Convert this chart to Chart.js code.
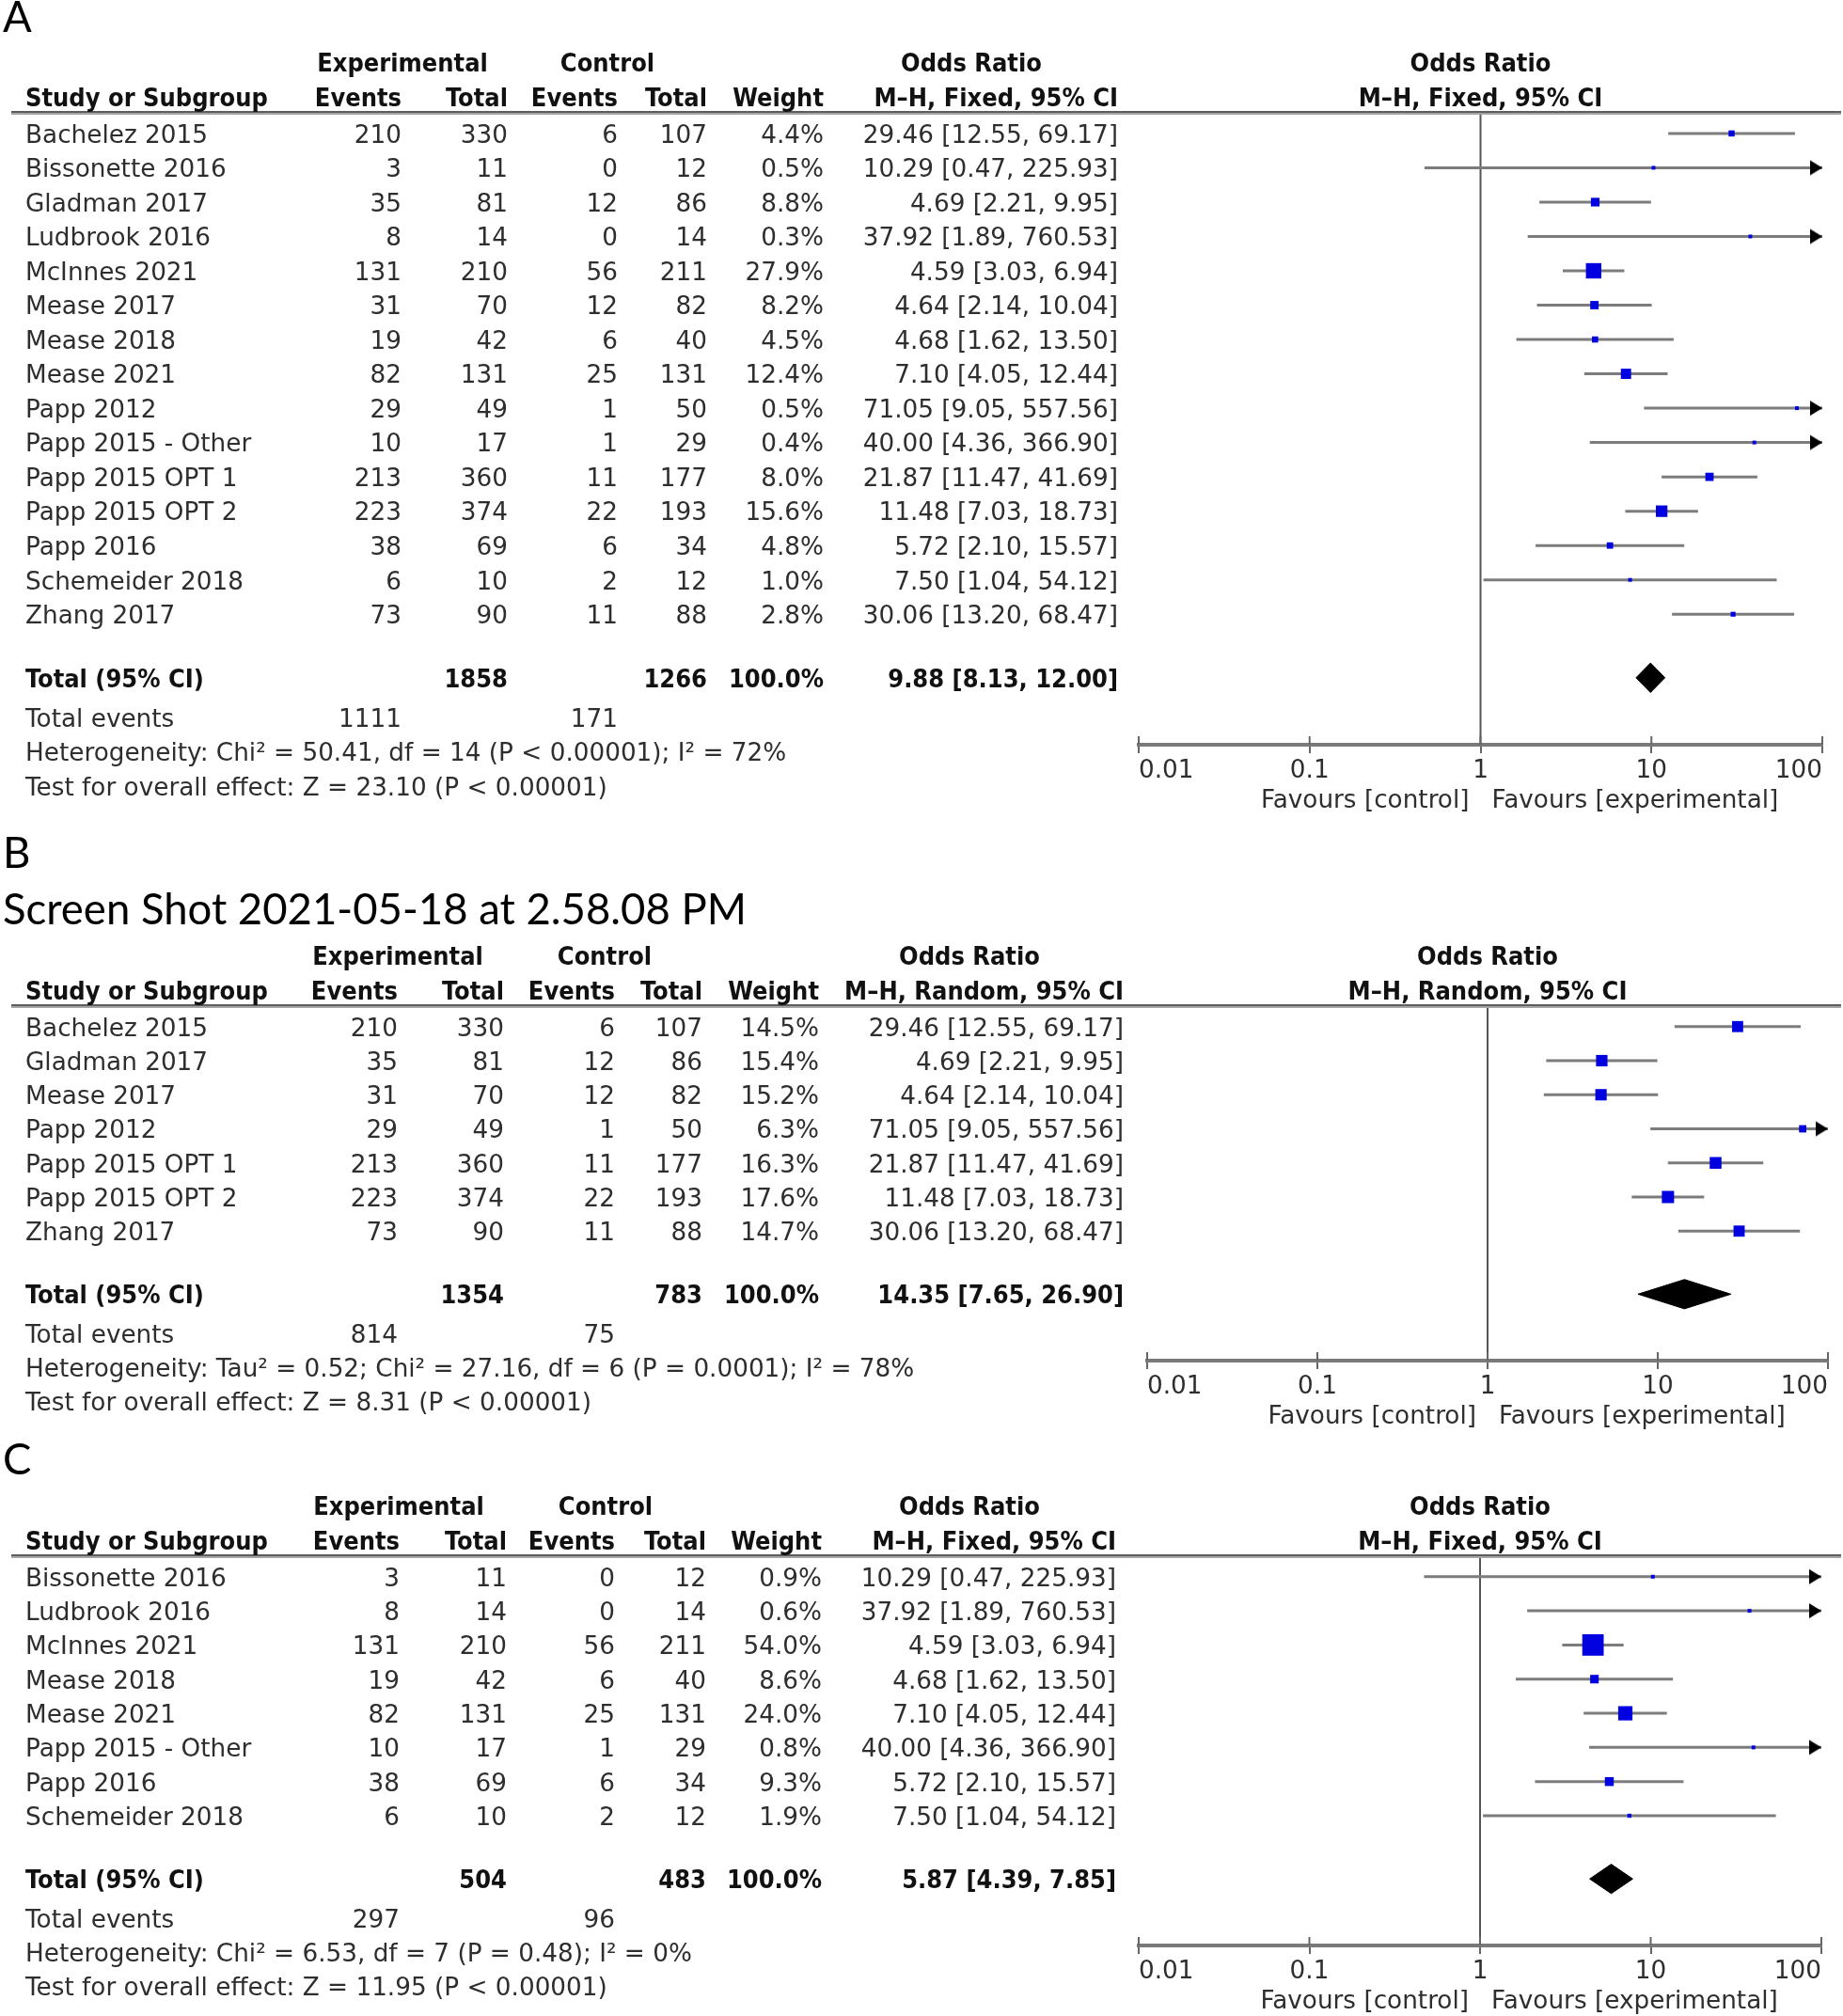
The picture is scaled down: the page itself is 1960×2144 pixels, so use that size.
<!DOCTYPE html>
<html>
<head>
<meta charset="utf-8">
<script src="https://cdn.jsdelivr.net/npm/chart.js@4.4.0/dist/chart.umd.min.js"></script>
<style>
  html, body { margin: 0; padding: 0; background: #fff; }
  #wrap { position: relative; width: 1960px; height: 2144px; }
  #wrap canvas { position: absolute; left: 0; top: 0; }
</style>
</head>
<body>
<div id="wrap">
  <canvas id="panelA" width="1960" height="2144"></canvas>
  <canvas id="panelB" width="1960" height="2144"></canvas>
  <canvas id="panelC" width="1960" height="2144"></canvas>
</div>
<script>
// ---- Panel A: fixed effect, all studies
const studiesA = ["Bachelez 2015", "Bissonette 2016", "Gladman 2017", "Ludbrook 2016", "McInnes 2021", "Mease 2017", "Mease 2018", "Mease 2021", "Papp 2012", "Papp 2015 - Other", "Papp 2015 OPT 1", "Papp 2015 OPT 2", "Papp 2016", "Schemeider 2018", "Zhang 2017"];
const expEventsA = [210, 3, 35, 8, 131, 31, 19, 82, 29, 10, 213, 223, 38, 6, 73];
const expTotalA = [330, 11, 81, 14, 210, 70, 42, 131, 49, 17, 360, 374, 69, 10, 90];
const ctrlEventsA = [6, 0, 12, 0, 56, 12, 6, 25, 1, 1, 11, 22, 6, 2, 11];
const ctrlTotalA = [107, 12, 86, 14, 211, 82, 40, 131, 50, 29, 177, 193, 34, 12, 88];
const weightA = [4.4, 0.5, 8.8, 0.3, 27.9, 8.2, 4.5, 12.4, 0.5, 0.4, 8.0, 15.6, 4.8, 1.0, 2.8];
const orA = [29.46, 10.29, 4.69, 37.92, 4.59, 4.64, 4.68, 7.10, 71.05, 40.00, 21.87, 11.48, 5.72, 7.50, 30.06];
const loA = [12.55, 0.47, 2.21, 1.89, 3.03, 2.14, 1.62, 4.05, 9.05, 4.36, 11.47, 7.03, 2.10, 1.04, 13.20];
const hiA = [69.17, 225.93, 9.95, 760.53, 6.94, 10.04, 13.50, 12.44, 557.56, 366.90, 41.69, 18.73, 15.57, 54.12, 68.47];
const totalsA = [1858, 1266];
const totalEventsA = [1111, 171];
const pooledA = [9.88, 8.13, 12.00];
const hetA = "Heterogeneity: Chi² = 50.41, df = 14 (P < 0.00001); I² = 72%";
const effectA = "Test for overall effect: Z = 23.10 (P < 0.00001)";

// ---- Panel B: random effects subset
const studiesB = ["Bachelez 2015", "Gladman 2017", "Mease 2017", "Papp 2012", "Papp 2015 OPT 1", "Papp 2015 OPT 2", "Zhang 2017"];
const expEventsB = [210, 35, 31, 29, 213, 223, 73];
const expTotalB = [330, 81, 70, 49, 360, 374, 90];
const ctrlEventsB = [6, 12, 12, 1, 11, 22, 11];
const ctrlTotalB = [107, 86, 82, 50, 177, 193, 88];
const weightB = [14.5, 15.4, 15.2, 6.3, 16.3, 17.6, 14.7];
const orB = [29.46, 4.69, 4.64, 71.05, 21.87, 11.48, 30.06];
const loB = [12.55, 2.21, 2.14, 9.05, 11.47, 7.03, 13.20];
const hiB = [69.17, 9.95, 10.04, 557.56, 41.69, 18.73, 68.47];
const totalsB = [1354, 783];
const totalEventsB = [814, 75];
const pooledB = [14.35, 7.65, 26.90];
const hetB = "Heterogeneity: Tau² = 0.52; Chi² = 27.16, df = 6 (P = 0.0001); I² = 78%";
const effectB = "Test for overall effect: Z = 8.31 (P < 0.00001)";

// ---- Panel C: fixed effect, other subset
const studiesC = ["Bissonette 2016", "Ludbrook 2016", "McInnes 2021", "Mease 2018", "Mease 2021", "Papp 2015 - Other", "Papp 2016", "Schemeider 2018"];
const expEventsC = [3, 8, 131, 19, 82, 10, 38, 6];
const expTotalC = [11, 14, 210, 42, 131, 17, 69, 10];
const ctrlEventsC = [0, 0, 56, 6, 25, 1, 6, 2];
const ctrlTotalC = [12, 14, 211, 40, 131, 29, 34, 12];
const weightC = [0.9, 0.6, 54.0, 8.6, 24.0, 0.8, 9.3, 1.9];
const orC = [10.29, 37.92, 4.59, 4.68, 7.10, 40.00, 5.72, 7.50];
const loC = [0.47, 1.89, 3.03, 1.62, 4.05, 4.36, 2.10, 1.04];
const hiC = [225.93, 760.53, 6.94, 13.50, 12.44, 366.90, 15.57, 54.12];
const totalsC = [504, 483];
const totalEventsC = [297, 96];
const pooledC = [5.87, 4.39, 7.85];
const hetC = "Heterogeneity: Chi² = 6.53, df = 7 (P = 0.48); I² = 0%";
const effectC = "Test for overall effect: Z = 11.95 (P < 0.00001)";

// axis
const tickValues = [0.01, 0.1, 1, 10, 100];
const tickLabels = ["0.01", "0.1", "1", "10", "100"];

// ---- fonts: pick sizes so text widths match the picture
const probe = document.createElement("canvas").getContext("2d");
function hasFont(fam, weight) {
  const s = "abcdefghiWMl 1234567";
  probe.font = `${weight} 40px monospace`;
  const a = probe.measureText(s).width;
  probe.font = `${weight} 40px "${fam}", monospace`;
  return probe.measureText(s).width !== a;
}
function fitSize(fam, weight, sample, target) {
  probe.font = `${weight} 100px "${fam}"`;
  return 100 * target / probe.measureText(sample).width;
}
const regFam = "DejaVu Sans";
const regSize = fitSize(regFam, "normal", "Bachelez 2015", 194);
const boldFam = hasFont("DejaVu Sans Condensed", "bold") ? "DejaVu Sans Condensed" : "DejaVu Sans";
const boldSize = fitSize(boldFam, "bold", "Study or Subgroup", 258);
const titleFam = hasFont("Lato", "normal") ? "Lato" : "Open Sans";
const titleSize = fitSize(titleFam, "normal", "Screen Shot 2021-05-18 at 2.58.08 PM", 791);
const REG = `${regSize}px "${regFam}"`;
const BOLD = `bold ${boldSize}px "${boldFam}"`;
const TITLE = `${titleSize}px "${titleFam}"`;
const TXT = "#2e2e2e", HEAD = "#111";
const TEXT_DY = 3;

// arrow head with its tip at the image centre
const arrowImg = document.createElement("canvas");
arrowImg.width = 30; arrowImg.height = 18;
(() => {
  const c = arrowImg.getContext("2d");
  c.fillStyle = "#000";
  c.beginPath(); c.moveTo(2, 1); c.lineTo(15, 9); c.lineTo(2, 17); c.closePath(); c.fill();
})();

const panels = [
  { id: "panelA", studies: studiesA, expEvents: expEventsA, expTotal: expTotalA, ctrlEvents: ctrlEventsA, ctrlTotal: ctrlTotalA,
    weight: weightA, or: orA, lo: loA, hi: hiA, totals: totalsA, events: totalEventsA, pooled: pooledA, het: hetA, effect: effectA,
    method: "M–H, Fixed, 95% CI", top: 120, axis: 792, left: 1211, right: 1938,
    cols: [427, 540, 657, 752, 876, 1189], heads: [428, 646, 1033], marks: [["A", 3, 34]] },
  { id: "panelB", studies: studiesB, expEvents: expEventsB, expTotal: expTotalB, ctrlEvents: ctrlEventsB, ctrlTotal: ctrlTotalB,
    weight: weightB, or: orB, lo: loB, hi: hiB, totals: totalsB, events: totalEventsB, pooled: pooledB, het: hetB, effect: effectB,
    method: "M–H, Random, 95% CI", top: 1070, axis: 1447, left: 1220, right: 1944,
    cols: [423, 536, 654, 747, 871, 1195], heads: [423, 643, 1031],
    marks: [["B", 3, 923], ["Screen Shot 2021-05-18 at 2.58.08 PM", 3, 983]] },
  { id: "panelC", studies: studiesC, expEvents: expEventsC, expTotal: expTotalC, ctrlEvents: ctrlEventsC, ctrlTotal: ctrlTotalC,
    weight: weightC, or: orC, lo: loC, hi: hiC, totals: totalsC, events: totalEventsC, pooled: pooledC, het: hetC, effect: effectC,
    method: "M–H, Fixed, 95% CI", top: 1655, axis: 2069, left: 1211, right: 1937,
    cols: [425, 539, 654, 751, 874, 1187], heads: [424, 644, 1031], marks: [["C", 3, 1568]] }
];

const Y_MIN = -0.6, AXIS_GAP = 2.8, TOTAL_GAP = 0.85, DIAMOND = 0.43;
const SCALE_H = 90;
const boxSide = w => Math.max(4, 3.1 * Math.sqrt(w));
const fmt = v => v.toFixed(2);

function put(ctx, str, x, y, align, font, color) {
  ctx.font = font; ctx.fillStyle = color;
  ctx.textAlign = align; ctx.textBaseline = "middle";
  ctx.fillText(str, x, y + TEXT_DY);
}

function tablePlugin(p) {
  return {
    id: "table" + p.id,
    afterDraw(chart) {
      const ctx = chart.ctx, ys = chart.scales.y, xs = chart.scales.x;
      const n = p.studies.length, c = p.cols;
      const y = r => ys.getPixelForValue(r);
      ctx.save();
      // panel letter / title
      p.marks.forEach(([s, x, base]) => {
        ctx.font = TITLE; ctx.fillStyle = "#000"; ctx.textAlign = "left"; ctx.textBaseline = "alphabetic";
        ctx.fillText(s, x, base);
      });
      // header rule
      const top = chart.chartArea.top;
      ctx.lineWidth = 2;
      ctx.strokeStyle = "#5e5e5e"; ctx.beginPath(); ctx.moveTo(12, top - 1); ctx.lineTo(1958, top - 1); ctx.stroke();
      ctx.strokeStyle = "#a5a5a5"; ctx.beginPath(); ctx.moveTo(12, top + 1); ctx.lineTo(1958, top + 1); ctx.stroke();
      // headers
      const h1 = y(-2.08), h2 = y(-1.07);
      put(ctx, "Experimental", p.heads[0], h1, "center", BOLD, HEAD);
      put(ctx, "Control", p.heads[1], h1, "center", BOLD, HEAD);
      put(ctx, "Odds Ratio", p.heads[2], h1, "center", BOLD, HEAD);
      put(ctx, "Study or Subgroup", 27, h2, "left", BOLD, HEAD);
      put(ctx, "Events", c[0], h2, "right", BOLD, HEAD);
      put(ctx, "Total", c[1], h2, "right", BOLD, HEAD);
      put(ctx, "Events", c[2], h2, "right", BOLD, HEAD);
      put(ctx, "Total", c[3], h2, "right", BOLD, HEAD);
      put(ctx, "Weight", c[4], h2, "right", BOLD, HEAD);
      put(ctx, p.method, c[5], h2, "right", BOLD, HEAD);
      const mid = (chart.chartArea.left + chart.chartArea.right) / 2;
      put(ctx, "Odds Ratio", mid, h1, "center", BOLD, HEAD);
      put(ctx, p.method, mid, h2, "center", BOLD, HEAD);
      // study rows
      p.studies.forEach((s, i) => {
        const yy = y(i);
        put(ctx, s, 27, yy, "left", REG, TXT);
        put(ctx, String(p.expEvents[i]), c[0], yy, "right", REG, TXT);
        put(ctx, String(p.expTotal[i]), c[1], yy, "right", REG, TXT);
        put(ctx, String(p.ctrlEvents[i]), c[2], yy, "right", REG, TXT);
        put(ctx, String(p.ctrlTotal[i]), c[3], yy, "right", REG, TXT);
        put(ctx, p.weight[i].toFixed(1) + "%", c[4], yy, "right", REG, TXT);
        put(ctx, `${fmt(p.or[i])} [${fmt(p.lo[i])}, ${fmt(p.hi[i])}]`, c[5], yy, "right", REG, TXT);
      });
      // total rows
      const yt = y(n + TOTAL_GAP);
      put(ctx, "Total (95% CI)", 27, yt, "left", BOLD, HEAD);
      put(ctx, String(p.totals[0]), c[1], yt, "right", BOLD, HEAD);
      put(ctx, String(p.totals[1]), c[3], yt, "right", BOLD, HEAD);
      put(ctx, "100.0%", c[4], yt, "right", BOLD, HEAD);
      put(ctx, `${fmt(p.pooled[0])} [${fmt(p.pooled[1])}, ${fmt(p.pooled[2])}]`, c[5], yt, "right", BOLD, HEAD);
      const ye = y(n + 2);
      put(ctx, "Total events", 27, ye, "left", REG, TXT);
      put(ctx, String(p.events[0]), c[0], ye, "right", REG, TXT);
      put(ctx, String(p.events[1]), c[2], ye, "right", REG, TXT);
      put(ctx, p.het, 27, y(n + 3), "left", REG, TXT);
      put(ctx, p.effect, 27, y(n + 4), "left", REG, TXT);
      // upward half of the axis tick marks
      const ax = chart.chartArea.bottom;
      ctx.strokeStyle = "#666"; ctx.lineWidth = 2;
      xs.ticks.forEach(t => {
        const px = xs.getPixelForValue(t.value);
        ctx.beginPath(); ctx.moveTo(px, ax - 9); ctx.lineTo(px, ax); ctx.stroke();
      });
      // favours labels
      const one = xs.getPixelForValue(1);
      put(ctx, "Favours [control]", one - 12, ax + 57, "right", REG, TXT);
      put(ctx, "Favours [experimental]", one + 12, ax + 57, "left", REG, TXT);
      ctx.restore();
    }
  };
}

function buildDatasets(p) {
  const n = p.studies.length;
  const sets = [];
  sets.push({ type: "scatter", showLine: true, order: 4, data: [{ x: 1, y: Y_MIN }, { x: 1, y: n + AXIS_GAP }],
    borderColor: "#555", borderWidth: 2, pointRadius: 0 });
  p.lo.forEach((lo, i) => sets.push({ type: "scatter", showLine: true, order: 3,
    data: [{ x: Math.max(lo, tickValues[0]), y: i }, { x: Math.min(p.hi[i], tickValues[4]), y: i }],
    borderColor: "#7c7c7c", borderWidth: 3, pointRadius: 0 }));
  sets.push({ type: "scatter", order: 1,
    data: p.hi.map((h, i) => ({ h, i })).filter(d => d.h > tickValues[4]).map(d => ({ x: tickValues[4], y: d.i })),
    pointStyle: arrowImg, pointRadius: 9 });
  sets.push({ type: "scatter", order: 0, data: p.or.map((v, i) => ({ x: v, y: i })),
    pointStyle: "rect", pointRadius: ctx => boxSide(p.weight[ctx.dataIndex]) / Math.SQRT2,
    pointBackgroundColor: "#0000e0", pointBorderWidth: 0, pointBorderColor: "#0000e0" });
  const t = n + TOTAL_GAP, [est, lo, hi] = p.pooled;
  sets.push({ type: "scatter", showLine: true, order: 1, fill: "shape",
    data: [{ x: lo, y: t }, { x: est, y: t - DIAMOND }, { x: hi, y: t }, { x: est, y: t + DIAMOND }, { x: lo, y: t }],
    borderColor: "#000", borderWidth: 1, backgroundColor: "#000", pointRadius: 0 });
  return sets;
}

panels.forEach(p => {
  const n = p.studies.length;
  new Chart(document.getElementById(p.id), {
    type: "scatter",
    data: { datasets: buildDatasets(p) },
    options: {
      responsive: false, animation: false, devicePixelRatio: 1,
      layout: { padding: { top: p.top, left: p.left, right: 1960 - p.right, bottom: 2144 - p.axis - SCALE_H } },
      plugins: { legend: { display: false }, tooltip: { enabled: false } },
      scales: {
        x: {
          type: "logarithmic", min: tickValues[0], max: tickValues[4],
          afterBuildTicks: s => { s.ticks = tickValues.map(v => ({ value: v })); },
          afterFit: s => { s.height = SCALE_H; s.paddingLeft = 0; s.paddingRight = 0; },
          ticks: { callback: (v, i) => tickLabels[i], align: "inner", autoSkip: false, maxRotation: 0,
            padding: 3, color: TXT, font: { family: regFam, size: regSize } },
          grid: { display: true, drawOnChartArea: false, drawTicks: true, tickLength: 9, color: "#666", lineWidth: 2 },
          border: { display: true, color: "#7a7a7a", width: 4 }
        },
        y: { type: "linear", min: Y_MIN, max: n + AXIS_GAP, reverse: true, display: false }
      }
    },
    plugins: [tablePlugin(p)]
  });
});
</script>
</body>
</html>
